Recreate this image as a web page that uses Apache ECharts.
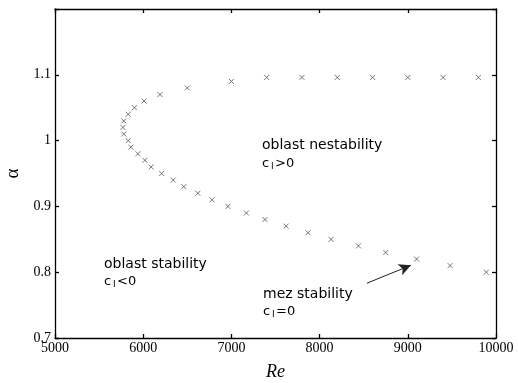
<!DOCTYPE html>
<html>
<head>
<meta charset="utf-8">
<script src="https://cdn.jsdelivr.net/npm/echarts@6/dist/echarts.min.js"></script>
<style>html,body{margin:0;padding:0;background:#fff}#c{width:518px;height:383px}</style>
</head>
<body>
<div id="c"></div>
<script>
// Neutral stability curve: Re (x) vs alpha (y)
const reValues = [9800, 9400, 9000, 8600, 8200, 7800, 7400, 7000, 6500, 6190, 6010, 5900, 5830, 5780, 5770, 5780, 5830, 5860, 5940, 6020, 6090, 6210, 6340, 6460, 6620, 6780, 6960, 7170, 7380, 7620, 7870, 8130, 8440, 8750, 9100, 9480, 9890];
const alphaValues = [1.096, 1.096, 1.096, 1.096, 1.096, 1.096, 1.096, 1.09, 1.08, 1.07, 1.06, 1.05, 1.04, 1.03, 1.02, 1.01, 1.00, 0.99, 0.98, 0.97, 0.96, 0.95, 0.94, 0.93, 0.92, 0.91, 0.90, 0.89, 0.88, 0.87, 0.86, 0.85, 0.84, 0.83, 0.82, 0.81, 0.80];
const xTicks = [5000, 6000, 7000, 8000, 9000, 10000];
const yTickLabels = ['0.7', '0.8', '0.9', '1', '1.1'];
const arrowStart = [8537, 0.7833];
const arrowEnd = [9036, 0.8106];

const points = reValues.map((r, i) => [r, alphaValues[i]]);
const chart = echarts.init(document.getElementById('c'), null, {renderer: 'canvas'});
const tickFont = {fontFamily: 'Liberation Serif', fontSize: 14, color: '#000'};
const lineStyle = {color: '#000', width: 1.3};
const annFont = 'DejaVu Sans';
function txt(x, y, s, size) {
  return {type: 'text', left: x, top: y, style: {text: s, font: (size || 13) + 'px "' + annFont + '"', fill: '#000'}};
}
function cLabel(x, y, rest) {
  return [txt(x, y, 'c'), txt(x + 9, y + 5, 'I', 9), txt(x + 13, y, rest)];
}
chart.setOption({
  animation: false,
  backgroundColor: '#fff',
  grid: {left: 55, right: 22, top: 9, bottom: 45, containLabel: false, outerBoundsMode: 'none'},
  xAxis: [{
    type: 'value', min: 5000, max: 10000, interval: 1000, position: 'bottom',
    name: 'Re', nameLocation: 'middle', nameGap: 25,
    nameTextStyle: {fontFamily: 'Liberation Serif', fontStyle: 'italic', fontSize: 18, color: '#000'},
    axisLine: {lineStyle}, axisTick: {inside: true, length: 4, lineStyle},
    axisLabel: Object.assign({margin: 3, formatter: v => xTicks.includes(v) ? String(v) : ''}, tickFont),
    splitLine: {show: false}
  }, {
    type: 'value', min: 5000, max: 10000, interval: 1000, position: 'top',
    axisLine: {show: true, lineStyle}, axisTick: {inside: true, length: 4, lineStyle},
    axisLabel: {show: false}, splitLine: {show: false}
  }],
  yAxis: [{
    type: 'value', min: 0.7, max: 1.2, interval: 0.1, position: 'left',
    name: 'α', nameLocation: 'middle', nameGap: 32,
    nameTextStyle: {fontFamily: 'Liberation Serif', fontSize: 19, color: '#000'},
    axisLine: {show: true, lineStyle}, axisTick: {inside: true, length: 4, lineStyle},
    axisLabel: Object.assign({margin: 4, formatter: v => {
      const idx = Math.round((v - 0.7) / 0.1);
      return yTickLabels[idx] || '';
    }}, tickFont),
    splitLine: {show: false}
  }, {
    type: 'value', min: 0.7, max: 1.2, interval: 0.1, position: 'right',
    axisLine: {show: true, lineStyle}, axisTick: {inside: true, length: 4, lineStyle},
    axisLabel: {show: false}, splitLine: {show: false}
  }],
  series: [{
    type: 'scatter',
    data: points,
    symbol: 'path://M0,0L10,10M10,0L0,10',
    symbolSize: 5,
    itemStyle: {color: 'transparent', borderColor: '#555', borderWidth: 1},
    markLine: {
      silent: true,
      symbol: ['none', 'arrow'],
      symbolSize: [9, 12],
      label: {show: false},
      lineStyle: {color: '#222', width: 1, type: 'solid'},
      data: [[{coord: arrowStart}, {coord: arrowEnd}]]
    }
  }],
  graphic: [].concat(
    [txt(262, 138, 'oblast nestability', 14)],
    cLabel(262, 157, '>0'),
    [txt(104, 257, 'oblast stability', 14)],
    cLabel(104, 275, '<0'),
    [txt(263, 287, 'mez stability', 14)],
    cLabel(263, 305, '=0')
  )
});
</script>
</body>
</html>
